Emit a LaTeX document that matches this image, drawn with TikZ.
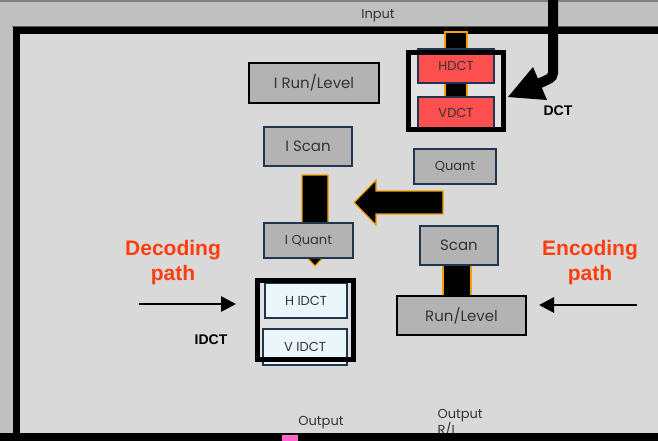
\documentclass[tikz,border=0pt]{standalone}
\usepackage{fontspec}
\setmainfont{Poppins}
\newfontfamily\arialf{Liberation Sans}
\usetikzlibrary{calc,arrows.meta}
\definecolor{bgout}{HTML}{C0C0C0}
\definecolor{bgin}{HTML}{D9D9D9}
\definecolor{frin}{HTML}{E2E2E2}
\definecolor{boxgray}{HTML}{B3B3B3}
\definecolor{navy}{HTML}{1F3550}
\definecolor{dctred}{HTML}{FF5050}
\definecolor{idctblue}{HTML}{EAF6FA}
\definecolor{orng}{HTML}{F5A000}
\definecolor{pathred}{HTML}{FF3D0D}
\definecolor{txt}{HTML}{333333}
\definecolor{pinkc}{HTML}{FF66CC}
\tikzset{
  gbox/.style={draw=#1, line width=1.5pt, fill=boxgray, text=txt, inner sep=0pt,
    font=\fontsize{13}{15}\selectfont},
  gbox/.default=navy,
  bigtxt/.style={font=\fontsize{15}{17}\selectfont},
  redbox/.style={gbox, fill=dctred},
  bluebox/.style={gbox, fill=idctblue},
  frame/.style={draw=black, line width=5pt},
  blockarrow/.style={fill=black, draw=orng, line width=1.2pt, line join=miter},
  pathlbl/.style={text=pathred, font=\arialf\bfseries\fontsize{21}{25}\selectfont, align=center},
  bold14/.style={font=\arialf\bfseries\fontsize{14}{16}\selectfont},
  small/.style={text=txt, font=\fontsize{13}{16}\selectfont},
  thinarrow/.style={line width=2.8pt, -{Triangle[length=15pt,width=15pt]}},
}
\begin{document}
\begin{tikzpicture}[x=1pt,y=-1pt]
\useasboundingbox (0,0) rectangle (658,440);
\clip (0,0) rectangle (658,440);
% backgrounds
\fill[bgout] (0,0) rectangle (658,440);
\draw[gray, line width=2pt] (0,1) -- (658,1);
\fill[bgin] (16,30.5) rectangle (680,450);
\draw[gray!70!black, line width=0.8pt] (12,26.5) -- (680,26.5);
\draw[black, line width=7pt] (680,30.5) -- (16,30.5) -- (16,450);
\node[small] (input) at (378,16) {Input};

% DCT frame interior and connector bar
\fill[frin] (408.5,52.5) rectangle (503.5,129.5);
\draw[blockarrow] (445,32) rectangle (467,110);
\node[redbox, minimum width=76, minimum height=34] (hdct) at (456,66) {HDCT};
\node[redbox, minimum width=76, minimum height=31] (vdct) at (456,112.5) {VDCT};
\draw[frame] (408.5,52.5) rectangle (503.5,129.5);

% DCT input arrow
\coordinate (dcts) at (553,-5);
\coordinate (dctm) at (553,77);
\coordinate (dcte) at (536,85);
\draw[line width=10pt, rounded corners=4pt] (dcts) -- (dctm) -- (dcte);
\fill (508,97) -- (533,67) -- (547,100) -- cycle;
\node[bold14] (dctlbl) at (558,111) {DCT};

% decoding side boxes
\node[gbox=black, bigtxt, minimum width=130, minimum height=40] (irl) at (314,83) {I Run/Level};
\node[gbox, bigtxt, minimum width=88, minimum height=39] (iscan) at (308,146.5) {I Scan};
\draw[blockarrow] (302,175) -- (328,175) -- (328,246) -- (334,246) -- (315,266)
  -- (296,246) -- (302,246) -- cycle;
\node[gbox, minimum width=89, minimum height=35] (iquant) at (308.5,240.5) {I Quant};

% encoding side
\node[gbox, minimum width=82, minimum height=35] (quant) at (455,166.5) {Quant};
\draw[blockarrow] (443,191) -- (376,191) -- (376,180) -- (354,202.5) -- (376,225)
  -- (376,214) -- (443,214) -- cycle;
\draw[blockarrow] (443,260) rectangle (471,300);
\node[gbox, bigtxt, minimum width=78, minimum height=39] (scan) at (459,245.5) {Scan};
\node[gbox=black, bigtxt, minimum width=129, minimum height=39] (rl) at (461.5,315.5) {Run/Level};

% IDCT
\fill[frin] (257.5,280.5) rectangle (353.5,359.5);
\node[bluebox, minimum width=82, minimum height=35] (hidct) at (306,300.5) {H IDCT};
\node[bluebox, minimum width=84, minimum height=36] (vidct) at (305,347) {V IDCT};
\draw[frame] (257.5,280.5) rectangle (353.5,359.5);
\node[bold14] (idctlbl) at (211,340) {IDCT};

% path labels and arrows
\node[pathlbl] (declbl) at (173,263) {Decoding\\path};
\node[pathlbl] (enclbl) at (590,263) {Encoding\\path};
\coordinate (decs) at (139,304);
\coordinate (dece) at (236,304);
\draw[thinarrow] (decs) -- (dece);
\coordinate (encs) at (637,305);
\coordinate (ence) at (539,305);
\draw[thinarrow] (encs) -- (ence);

% outputs
\node[small] (out) at (321,423) {Output};
\node[small, align=left, anchor=north west] (outrl) at (434,406) {Output\\R/L};
\fill[black] (0,433) rectangle (680,450);
\fill[pinkc] (282,435) rectangle (298,445);
\end{tikzpicture}
\end{document}
